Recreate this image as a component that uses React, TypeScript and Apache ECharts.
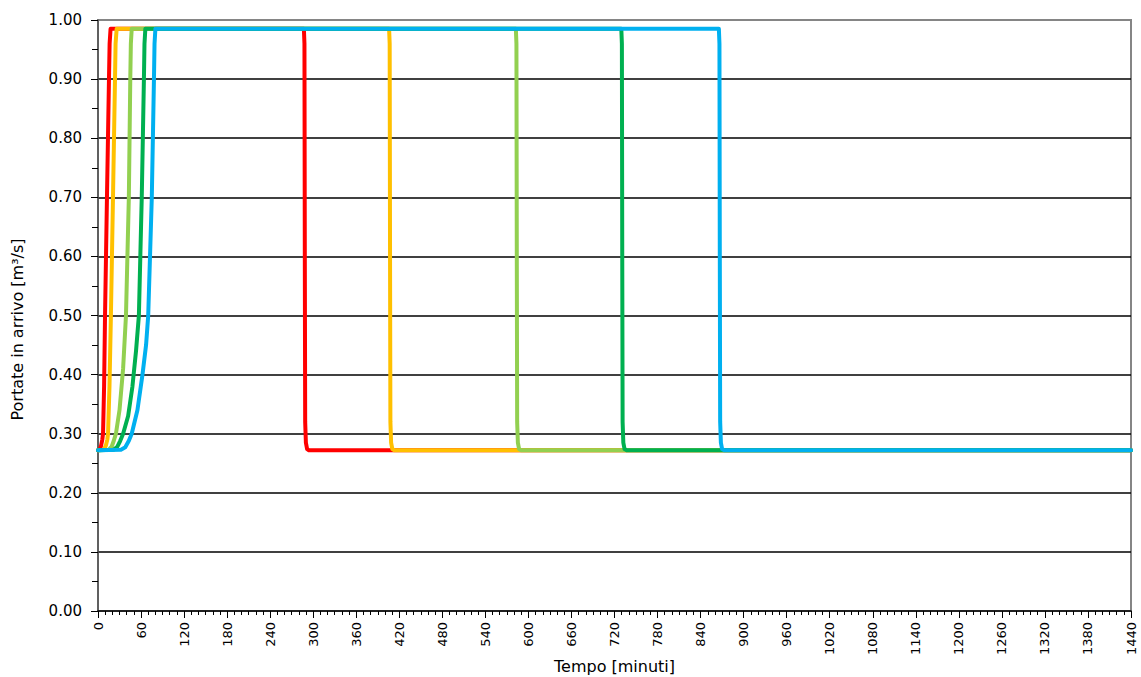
import React, { useEffect, useRef } from "react";
import * as echarts from "echarts";

const seriesNames = ["Serie 1", "Serie 2", "Serie 3", "Serie 4", "Serie 5"];
const seriesColors = ["#FF0000", "#FFC000", "#92D050", "#00B050", "#00B0F0"];

const red: [number, number][] = [
  [0, 0.272], [2, 0.273], [4, 0.278], [6, 0.29], [7, 0.3], [8.5, 0.38], [9.8, 0.5],
  [12.5, 0.7], [15.3, 0.9], [16.2, 0.96], [17.5, 0.985],
  [287, 0.985], [287.8, 0.96], [288.3, 0.6], [288.8, 0.32], [289.8, 0.285], [291.5, 0.274], [294, 0.272],
  [1440, 0.272],
];
const orange: [number, number][] = [
  [0, 0.272], [8, 0.273], [11, 0.28], [13, 0.29], [14, 0.3], [16, 0.38], [18, 0.5],
  [20.9, 0.7], [23.7, 0.9], [24.5, 0.96], [26, 0.985],
  [405.8, 0.985], [406.6, 0.96], [407.1, 0.6], [407.6, 0.32], [408.6, 0.285], [410.3, 0.274], [413, 0.272],
  [1440, 0.272],
];
const lightGreen: [number, number][] = [
  [0, 0.272], [15, 0.273], [19, 0.278], [22, 0.288], [25, 0.3], [30, 0.34], [35, 0.41], [39, 0.5],
  [43, 0.7], [45, 0.9], [45.8, 0.96], [47, 0.985],
  [582.5, 0.985], [583.3, 0.96], [583.8, 0.6], [584.3, 0.32], [585.3, 0.285], [587, 0.274], [590, 0.272],
  [1440, 0.272],
];
const green: [number, number][] = [
  [0, 0.272], [22, 0.273], [27, 0.278], [31, 0.288], [35, 0.3], [42, 0.33], [48, 0.38], [53, 0.44], [57, 0.5],
  [61, 0.7], [64, 0.9], [64.8, 0.96], [66, 0.985],
  [729.5, 0.985], [730.3, 0.96], [730.8, 0.6], [731.3, 0.32], [732.3, 0.285], [734, 0.274], [737, 0.272],
  [1440, 0.272],
];
const blue: [number, number][] = [
  [0, 0.272], [32, 0.273], [38, 0.277], [43, 0.288], [47, 0.3], [55, 0.34], [62, 0.4], [67, 0.45], [70, 0.5],
  [75, 0.7], [78, 0.9], [78.8, 0.96], [80, 0.985],
  [865.5, 0.985], [866.3, 0.96], [866.8, 0.6], [867.3, 0.32], [868.3, 0.285], [870, 0.274], [873, 0.272],
  [1440, 0.272],
];

const seriesData = [red, orange, lightGreen, green, blue];

const xTitle = "Tempo [minuti]";
const yTitle = "Portate in arrivo [m³/s]";

export default function App() {
  const ref = useRef<HTMLDivElement>(null);
  useEffect(() => {
    document.body.style.margin = "0";
    if (!ref.current) return;
    const chart = echarts.init(ref.current, null, { renderer: "svg" });
    chart.setOption({
      animation: false,
      backgroundColor: "#ffffff",
      textStyle: { fontFamily: "DejaVu Sans" },
      grid: {
        left: 98,
        right: 10,
        top: 20,
        bottom: 66,
        containLabel: false,
        outerBoundsMode: "none",
        show: true,
        borderColor: "#858585",
        borderWidth: 2,
        backgroundColor: "transparent",
      },
      xAxis: {
        type: "value",
        min: 0,
        max: 1440,
        interval: 60,
        minorTick: { show: true, splitNumber: 6, length: 4, lineStyle: { color: "#000" } },
        axisLine: { show: true, onZero: false, lineStyle: { color: "#000", width: 1.5 } },
        axisTick: { show: true, length: 7, lineStyle: { color: "#000" } },
        axisLabel: {
          rotate: 90,
          margin: 11,
          fontSize: 13,
          color: "#000",
          fontFamily: "DejaVu Sans",
          formatter: (v: number) => String(v),
        },
        splitLine: { show: false },
        name: xTitle,
        nameLocation: "middle",
        nameGap: 47,
        nameMoveOverlap: false,
        nameTextStyle: { fontSize: 16, color: "#000", fontFamily: "DejaVu Sans" },
      },
      yAxis: {
        type: "value",
        min: 0,
        max: 1,
        interval: 0.1,
        minorTick: { show: true, splitNumber: 2, length: 6, lineStyle: { color: "#000" } },
        axisLine: { show: true, lineStyle: { color: "#555", width: 1.5 } },
        axisTick: { show: true, length: 7, lineStyle: { color: "#000" } },
        axisLabel: {
          margin: 16,
          fontSize: 15,
          color: "#000",
          fontFamily: "DejaVu Sans",
          formatter: (v: number) => v.toFixed(2),
        },
        splitLine: {
          show: true,
          showMinLine: false,
          showMaxLine: false,
          lineStyle: { color: "#000", width: 1.5 },
        },
        name: yTitle,
        nameLocation: "middle",
        nameGap: 73,
        nameMoveOverlap: false,
        nameTextStyle: {
          fontSize: 16,
          color: "#000",
          fontFamily: "DejaVu Sans",
          padding: [0, 28, 0, 0],
        },
      },
      series: seriesData.map((d, i) => ({
        name: seriesNames[i],
        type: "line",
        data: d,
        showSymbol: false,
        symbol: "none",
        smooth: false,
        lineStyle: { color: seriesColors[i], width: 4, join: "round", cap: "round" },
        itemStyle: { color: seriesColors[i] },
        z: 2 + i,
      })),
    });
    return () => chart.dispose();
  }, []);
  return <div ref={ref} style={{ width: 1141, height: 677 }} />;
}
